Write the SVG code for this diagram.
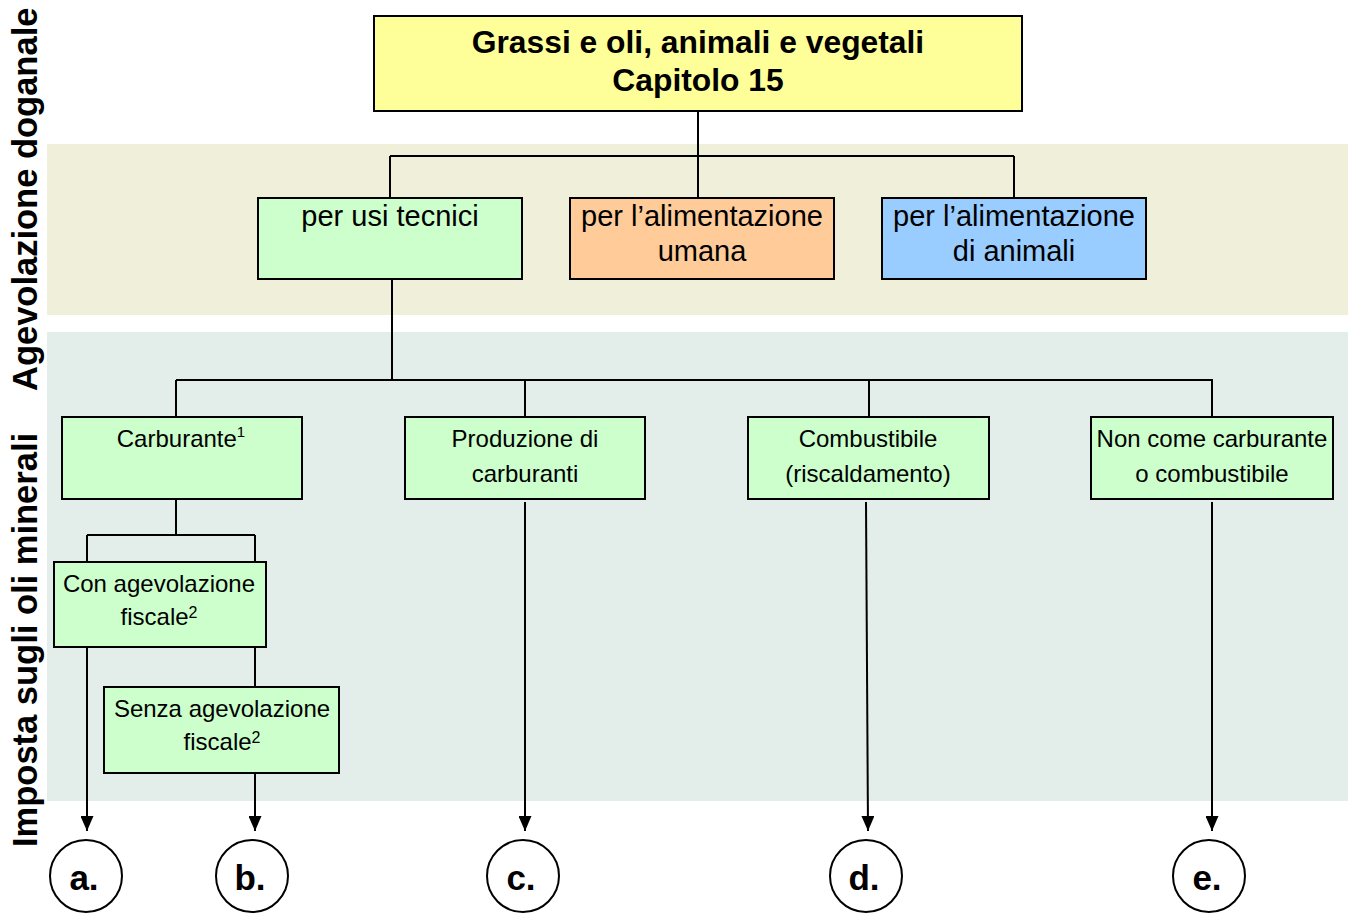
<svg xmlns="http://www.w3.org/2000/svg" width="1352" height="913" viewBox="0 0 1352 913">
<style>
.box{stroke:#000;stroke-width:2}
.t{font-family:"Liberation Sans",Arial,sans-serif;fill:#000;text-anchor:middle}
.l1{font-size:29px}
.l2{font-size:24px}
.b{font-weight:bold}
.ln{stroke:#000;stroke-width:2;fill:none}
.side{font-family:"Liberation Sans",Arial,sans-serif;font-weight:bold;font-size:34.5px;fill:#000}
</style>
<defs>
<marker id="ah" markerUnits="userSpaceOnUse" markerWidth="15" markerHeight="13" refX="15" refY="6.5" orient="auto">
<path d="M0,0 L15,6.5 L0,13 z" fill="#000"/>
</marker>
</defs>
<rect width="1352" height="913" fill="#fff"/>
<g id="bands">
<rect x="47" y="144" width="1301" height="171" fill="#EFEFDA"/>
<rect x="47" y="332" width="1301" height="469" fill="#E3EEEB"/>
</g>
<g id="side-labels">
<text class="side" transform="translate(37,391) rotate(-90)">Agevolazione doganale</text>
<text class="side" transform="translate(37,847) rotate(-90)">Imposta sugli oli minerali</text>
</g>
<g id="connectors">
<path class="ln" d="M698,112 V198 M390,156 H1014 M390,156 V198 M1014,156 V198"/>
<path class="ln" d="M392,280 V380 M176,380 H1213 M176,380 V417 M525,380 V417 M869,380 V417 M1212,380 V417"/>
<path class="ln" d="M176,499 V535 M87,535 H255 M87,535 V562 M255,535 V562 M255,647 V687"/>
<path class="ln" marker-end="url(#ah)" d="M87,647 V831"/>
<path class="ln" marker-end="url(#ah)" d="M255,774 V831"/>
<path class="ln" marker-end="url(#ah)" d="M525,502 V831"/>
<path class="ln" marker-end="url(#ah)" d="M866,502 L868,831"/>
<path class="ln" marker-end="url(#ah)" d="M1212,502 V831"/>
</g>
<g id="n-title">
<rect class="box" x="374" y="16" width="648" height="95" fill="#FFFF99"/>
<text class="t b" font-size="31.8" x="698" y="53">Grassi e oli, animali e vegetali</text>
<text class="t b" font-size="31.8" x="698" y="91">Capitolo 15</text>
</g>
<g id="n-tecnici">
<rect class="box" x="258" y="198" width="264" height="81" fill="#CCFFCC"/>
<text class="t l1" x="390" y="226">per usi tecnici</text>
</g>
<g id="n-umana">
<rect class="box" x="570" y="198" width="264" height="81" fill="#FFCC99"/>
<text class="t l1" x="702" y="226">per l’alimentazione</text>
<text class="t l1" x="702" y="261">umana</text>
</g>
<g id="n-animali">
<rect class="box" x="882" y="198" width="264" height="81" fill="#99CCFF"/>
<text class="t l1" x="1014" y="226">per l’alimentazione</text>
<text class="t l1" x="1014" y="261">di animali</text>
</g>
<g id="n-carburante">
<rect class="box" x="62" y="417" width="240" height="82" fill="#CCFFCC"/>
<text class="t l2" x="181" y="447">Carburante<tspan font-size="15" dy="-10">1</tspan></text>
</g>
<g id="n-produzione">
<rect class="box" x="405" y="417" width="240" height="82" fill="#CCFFCC"/>
<text class="t l2" x="525" y="447">Produzione di</text>
<text class="t l2" x="525" y="482">carburanti</text>
</g>
<g id="n-combustibile">
<rect class="box" x="748" y="417" width="241" height="82" fill="#CCFFCC"/>
<text class="t l2" x="868" y="447">Combustibile</text>
<text class="t l2" x="868" y="482">(riscaldamento)</text>
</g>
<g id="n-noncome">
<rect class="box" x="1091" y="417" width="242" height="82" fill="#CCFFCC"/>
<text class="t l2" x="1212" y="447">Non come carburante</text>
<text class="t l2" x="1212" y="482">o combustibile</text>
</g>
<g id="n-con">
<rect class="box" x="54" y="562" width="212" height="85" fill="#CCFFCC"/>
<text class="t l2" x="159" y="592">Con agevolazione</text>
<text class="t l2" x="159" y="625">fiscale<tspan font-size="16" dy="-7">2</tspan></text>
</g>
<g id="n-senza">
<rect class="box" x="104" y="687" width="235" height="86" fill="#CCFFCC"/>
<text class="t l2" x="222" y="717">Senza agevolazione</text>
<text class="t l2" x="222" y="750">fiscale<tspan font-size="16" dy="-7">2</tspan></text>
</g>
<g id="n-a">
<circle cx="86" cy="876" r="36" fill="#fff" stroke="#000" stroke-width="2"/>
<text class="t b" font-size="35" x="84" y="890">a.</text>
</g>
<g id="n-b">
<circle cx="252" cy="876" r="36" fill="#fff" stroke="#000" stroke-width="2"/>
<text class="t b" font-size="35" x="250" y="890">b.</text>
</g>
<g id="n-c">
<circle cx="523" cy="876" r="36" fill="#fff" stroke="#000" stroke-width="2"/>
<text class="t b" font-size="35" x="521" y="890">c.</text>
</g>
<g id="n-d">
<circle cx="866" cy="876" r="36" fill="#fff" stroke="#000" stroke-width="2"/>
<text class="t b" font-size="35" x="864" y="890">d.</text>
</g>
<g id="n-e">
<circle cx="1209" cy="876" r="36" fill="#fff" stroke="#000" stroke-width="2"/>
<text class="t b" font-size="35" x="1207" y="890">e.</text>
</g>
</svg>
